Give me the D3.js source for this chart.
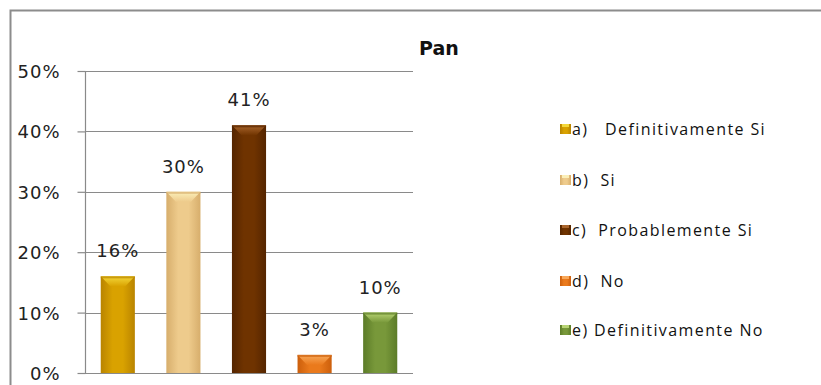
<!DOCTYPE html>
<html>
<head>
<meta charset="utf-8">
<script src="https://cdn.jsdelivr.net/npm/d3@7"></script>
<style>
  html, body { margin: 0; padding: 0; background: #fff; }
  svg { display: block; }
</style>
</head>
<body>
<svg id="chart" width="821" height="385"></svg>
<script>
// Survey answers for "Pan"
const categories = ["a)   Definitivamente Si", "b)  Si", "c)  Probablemente Si", "d)  No", "e) Definitivamente No"];
const values = [0.16, 0.30, 0.41, 0.03, 0.10];
const valueLabels = ["16%", "30%", "41%", "3%", "10%"];
const tickValues = [0, 0.1, 0.2, 0.3, 0.4, 0.5];
const tickLabels = ["0%", "10%", "20%", "30%", "40%", "50%"];
const title = "Pan";

// Per-bar palette: body, darker edge, lighter cap
const palette = [
  { body: "#d9a200", edge: "#b98400", cap: "#f4d83a" },
  { body: "#eecb8c", edge: "#d7ae6c", cap: "#fbefb8" },
  { body: "#6f3300", edge: "#552500", cap: "#a9652c" },
  { body: "#ea7a1c", edge: "#cc5f0c", cap: "#f8a85a" },
  { body: "#78983a", edge: "#5c7c28", cap: "#b8d474" }
];

const svg = d3.select("#chart");
const W = 821, H = 385;

// Outer frame, running off the right and bottom edges
svg.append("path")
  .attr("d", `M10.5,${H + 2} L10.5,10.5 L${W + 2},10.5`)
  .attr("fill", "none")
  .attr("stroke", "#8c8c8c")
  .attr("stroke-width", 2);

const x = d3.scaleBand()
  .domain(d3.range(values.length))
  .range([85, 413])
  .paddingInner(0.48)
  .paddingOuter(0.24);

const y = d3.scaleLinear().domain([0, 0.5]).range([373, 71]);

// Gradients for the cylinder-like bars
const defs = svg.append("defs");
palette.forEach((p, i) => {
  const g = defs.append("linearGradient").attr("id", "bar" + i)
    .attr("x1", "0").attr("x2", "1").attr("y1", "0").attr("y2", "0");
  g.append("stop").attr("offset", "0%").attr("stop-color", p.edge);
  g.append("stop").attr("offset", "35%").attr("stop-color", p.body);
  g.append("stop").attr("offset", "65%").attr("stop-color", p.body);
  g.append("stop").attr("offset", "100%").attr("stop-color", p.edge);
  const c = defs.append("linearGradient").attr("id", "cap" + i)
    .attr("x1", "0").attr("x2", "0").attr("y1", "0").attr("y2", "1");
  c.append("stop").attr("offset", "0%").attr("stop-color", p.cap);
  c.append("stop").attr("offset", "100%").attr("stop-color", p.body);
});

// Horizontal gridlines
const yAxis = d3.axisLeft(y)
  .tickValues(tickValues)
  .tickSize(8)
  .tickFormat((d, i) => tickLabels[i]);

const grid = svg.append("g");
grid.selectAll("line").data(tickValues).join("line")
  .attr("x1", 85).attr("x2", 413)
  .attr("y1", d => Math.round(y(d)) + 0.5)
  .attr("y2", d => Math.round(y(d)) + 0.5)
  .attr("stroke", "#8a8a8a").attr("stroke-width", 1.2);

const ax = svg.append("g").attr("transform", "translate(85.5,0)").call(yAxis);
ax.select(".domain").attr("stroke", "#8a8a8a").attr("stroke-width", 1.2)
  .attr("d", `M0,${y(0.5)}V${y(0)}`);
ax.selectAll(".tick line").attr("stroke", "#8a8a8a").attr("stroke-width", 1.2);
ax.selectAll(".tick text")
  .attr("x", -25)
  .attr("dy", "0.36em")
  .attr("fill", "#222")
  .style("font-family", "'DejaVu Sans', Verdana, sans-serif")
  .style("font-size", "18px")
  .style("letter-spacing", "1px");

// Bars
const bars = svg.append("g");
values.forEach((v, i) => {
  const bx = x(i), bw = x.bandwidth(), top = y(v), bot = y(0);
  bars.append("rect")
    .attr("x", bx).attr("y", top)
    .attr("width", bw).attr("height", bot - top)
    .attr("fill", `url(#bar${i})`);
  // lighter cap at the top of the bar
  const capH = Math.min(10, bot - top);
  bars.append("path")
    .attr("d", `M${bx},${top} L${bx + bw},${top} L${bx + bw * 0.72},${top + capH} L${bx + bw * 0.28},${top + capH} Z`)
    .attr("fill", `url(#cap${i})`);
  bars.append("rect")
    .attr("x", bx).attr("y", top)
    .attr("width", bw).attr("height", 2)
    .attr("fill", palette[i].edge).attr("opacity", 0.7);
});

// Value labels
svg.append("g").selectAll("text").data(values).join("text")
  .attr("x", (d, i) => x(i) + x.bandwidth() / 2)
  .attr("y", d => y(d) - 19)
  .attr("text-anchor", "middle")
  .attr("fill", "#222")
  .style("font-family", "'DejaVu Sans', Verdana, sans-serif")
  .style("font-size", "18px")
  .style("letter-spacing", "1px")
  .text((d, i) => valueLabels[i]);

// Title
svg.append("text")
  .attr("x", 419).attr("y", 55)
  .attr("fill", "#111")
  .style("font-family", "'DejaVu Sans', sans-serif")
  .style("font-weight", "bold")
  .style("font-size", "19px")
  .text(title);

// Legend
const legend = svg.append("g");
const rowY = [129, 180, 230, 281, 330];
categories.forEach((c, i) => {
  const g = legend.append("g").attr("transform", `translate(560,${rowY[i]})`);
  g.append("rect").attr("x", 0).attr("y", -5).attr("width", 11).attr("height", 10)
    .attr("fill", `url(#bar${i})`);
  g.append("rect").attr("x", 2).attr("y", -5).attr("width", 7).attr("height", 3)
    .attr("fill", palette[i].cap);
  g.append("text")
    .attr("x", 12).attr("y", 0).attr("dy", "0.35em")
    .attr("fill", "#111")
    .style("font-family", "'Open Sans', sans-serif")
    .style("font-size", "16px")
    .style("letter-spacing", "1.4px")
    .style("white-space", "pre")
    .attr("xml:space", "preserve")
    .text(c);
});
</script>
</body>
</html>
